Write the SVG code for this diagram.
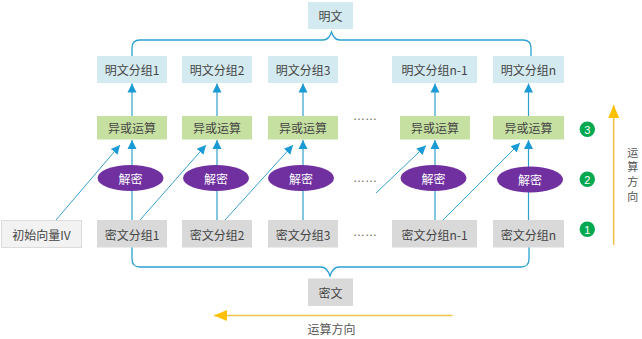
<svg xmlns="http://www.w3.org/2000/svg" width="642" height="339" viewBox="0 0 642 339">
<style>
text{font-family:"Noto Sans CJK SC","Liberation Sans",sans-serif;font-size:12px;fill:#444;text-anchor:middle;dominant-baseline:central}
.pt{fill:#d4eaf1}
.xo{fill:#c6e0a2}
.ct{fill:#d9d9d9}
.iv{fill:#f2f2f2;stroke:#dcdcdc;stroke-width:1}
.dec{fill:#7030a0}
.dect{fill:#ffffff}
.num{fill:#00a84f}
.numt{fill:#ffffff;font-family:"Liberation Sans",sans-serif;font-size:11px}
.ln{fill:none;stroke:#2e9fcd;stroke-width:1.2}
.dg{fill:none;stroke:#3aa0cc;stroke-width:1}
.br{fill:none;stroke:#2aa1d3;stroke-width:1.3}
.yl{fill:none;stroke:#f2c24e;stroke-width:1.6}
.dots{font-family:"Liberation Sans",sans-serif;font-size:12px;fill:#666;text-anchor:start;dominant-baseline:alphabetic}
.dir{fill:#555}
.vdir{fill:#555;font-size:11px}
</style>
<defs>
<marker id="ab" markerUnits="userSpaceOnUse" markerWidth="10" markerHeight="10" refX="9" refY="5" orient="auto">
<path d="M0,0.5 L9,5 L0,9.5 Z" fill="#1a9bd6"/>
</marker>
<marker id="ay" markerUnits="userSpaceOnUse" markerWidth="14" markerHeight="12" refX="13" refY="6" orient="auto">
<path d="M0,0.5 L13,6 L0,11.5 Z" fill="#ffc000"/>
</marker>
</defs>

<g id="connectors">
<path class="br" d="M132,56 V48 Q132,40 140,40 H323 Q329,40 331.5,32 Q334,40 340,40 H523 Q531,40 531,48 V56"/>
<path class="br" d="M132,247 V259 Q132,267 140,267 H321 Q327,267 330,276 Q333,267 339,267 H521 Q529,267 529,259 V247"/>
<path class="ln" d="M132,116 V83.5" marker-end="url(#ab)"/>
<path class="ln" d="M217,116 V83.5" marker-end="url(#ab)"/>
<path class="ln" d="M303,116 V83.5" marker-end="url(#ab)"/>
<path class="ln" d="M435,116 V83.5" marker-end="url(#ab)"/>
<path class="ln" d="M528.5,116 V83.5" marker-end="url(#ab)"/>
<path class="ln" d="M132,220 V140" marker-end="url(#ab)"/>
<path class="ln" d="M217,220 V140" marker-end="url(#ab)"/>
<path class="ln" d="M303,220 V140" marker-end="url(#ab)"/>
<path class="ln" d="M435,220 V140" marker-end="url(#ab)"/>
<path class="ln" d="M528.5,220 V140" marker-end="url(#ab)"/>
<path class="dg" d="M56,220 L120,145" marker-end="url(#ab)"/>
<path class="dg" d="M140,220 L206,145" marker-end="url(#ab)"/>
<path class="dg" d="M225,220 L293,145" marker-end="url(#ab)"/>
<path class="dg" d="M376,193 L426,145.5" marker-end="url(#ab)"/>
<path class="dg" d="M443,220 L520,143" marker-end="url(#ab)"/>
<path class="yl" d="M452.5,315.5 H214" marker-end="url(#ay)"/>
<path class="yl" d="M613.7,245 V105" marker-end="url(#ay)"/>
</g>

<g id="n-plain">
<rect class="pt" x="308" y="2" width="45" height="27"/>
<text x="330.5" y="15.5">明文</text>
</g>
<g id="n-p1"><rect class="pt" x="97" y="56" width="70" height="27"/><text x="132" y="69.5">明文分组1</text></g>
<g id="n-p2"><rect class="pt" x="182" y="56" width="70" height="27"/><text x="217" y="69.5">明文分组2</text></g>
<g id="n-p3"><rect class="pt" x="268" y="56" width="70" height="27"/><text x="303" y="69.5">明文分组3</text></g>
<g id="n-pn1"><rect class="pt" x="392" y="56" width="85" height="27"/><text x="434.5" y="69.5">明文分组n-1</text></g>
<g id="n-pn"><rect class="pt" x="493" y="56" width="71" height="27"/><text x="528.5" y="69.5">明文分组n</text></g>

<g id="n-x1"><rect class="xo" x="97" y="116" width="70" height="23.5"/><text x="132" y="127.8">异或运算</text></g>
<g id="n-x2"><rect class="xo" x="182" y="116" width="70" height="23.5"/><text x="217" y="127.8">异或运算</text></g>
<g id="n-x3"><rect class="xo" x="268" y="116" width="70" height="23.5"/><text x="303" y="127.8">异或运算</text></g>
<g id="n-xn1"><rect class="xo" x="400" y="116" width="70" height="23.5"/><text x="435" y="127.8">异或运算</text></g>
<g id="n-xn"><rect class="xo" x="493" y="116" width="71" height="23.5"/><text x="528.5" y="127.8">异或运算</text></g>

<g id="n-d1"><ellipse class="dec" cx="130.5" cy="178" rx="33" ry="13"/><text class="dect" x="130.5" y="178">解密</text></g>
<g id="n-d2"><ellipse class="dec" cx="216" cy="178" rx="33" ry="13"/><text class="dect" x="216" y="178">解密</text></g>
<g id="n-d3"><ellipse class="dec" cx="301" cy="178" rx="33" ry="13"/><text class="dect" x="301" y="178">解密</text></g>
<g id="n-dn1"><ellipse class="dec" cx="433.5" cy="178" rx="33" ry="13"/><text class="dect" x="433.5" y="178">解密</text></g>
<g id="n-dn"><ellipse class="dec" cx="530" cy="179.5" rx="33" ry="13"/><text class="dect" x="530" y="179.5">解密</text></g>

<g id="n-iv"><rect class="iv" x="1.5" y="220.5" width="80" height="27"/><text x="41.5" y="234">初始向量IV</text></g>
<g id="n-c1"><rect class="ct" x="97" y="220" width="70" height="27.5"/><text x="132" y="234">密文分组1</text></g>
<g id="n-c2"><rect class="ct" x="182" y="220" width="70" height="27.5"/><text x="217" y="234">密文分组2</text></g>
<g id="n-c3"><rect class="ct" x="268" y="220" width="70" height="27.5"/><text x="303" y="234">密文分组3</text></g>
<g id="n-cn1"><rect class="ct" x="392" y="220" width="85" height="27.5"/><text x="434.5" y="234">密文分组n-1</text></g>
<g id="n-cn"><rect class="ct" x="493" y="220" width="71" height="27.5"/><text x="528.5" y="234">密文分组n</text></g>

<g id="n-cipher">
<rect class="ct" x="308" y="278.5" width="45" height="27.5"/>
<text x="330.5" y="292">密文</text>
</g>

<g id="dots">
<text class="dots" x="353" y="120">……</text>
<text class="dots" x="353" y="182">……</text>
<text class="dots" x="353" y="236">……</text>
</g>

<g id="n-steps">
<circle class="num" cx="587.3" cy="129.3" r="7.7"/><text class="numt" x="587.3" y="129.8">3</text>
<circle class="num" cx="587.3" cy="179.3" r="7.7"/><text class="numt" x="587.3" y="179.8">2</text>
<circle class="num" cx="587.3" cy="229.3" r="7.7"/><text class="numt" x="587.3" y="229.8">1</text>
</g>

<g id="labels">
<text class="dir" x="331.5" y="328.3">运算方向</text>
<text class="vdir" x="632.7" y="151.5">运</text>
<text class="vdir" x="632.7" y="166.3">算</text>
<text class="vdir" x="632.7" y="181.1">方</text>
<text class="vdir" x="632.7" y="195.9">向</text>
</g>
</svg>
